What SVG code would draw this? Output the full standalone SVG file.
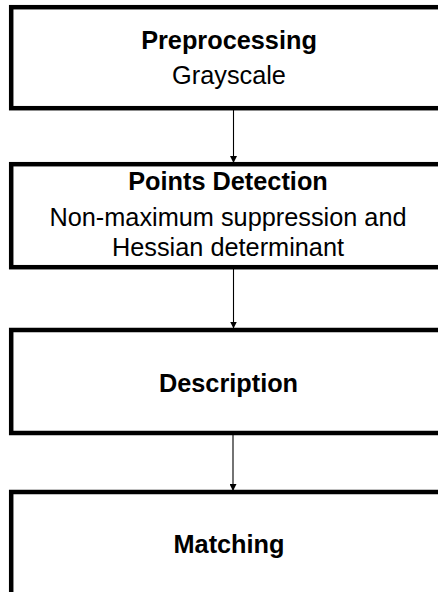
<svg xmlns="http://www.w3.org/2000/svg" width="438" height="592" viewBox="0 0 438 592">
  <style>
    .box { fill: #ffffff; stroke: #000000; stroke-width: 4.5; }
    .title { font-family: "Liberation Sans", Arial, sans-serif; font-size: 25.3px; font-weight: bold; fill: #000; text-anchor: middle; }
    .sub { font-family: "Liberation Sans", Arial, sans-serif; font-size: 25.3px; fill: #000; text-anchor: middle; }
    .link { stroke: #000; stroke-width: 1.1; fill: none; }
  </style>
  <defs>
    <marker id="arrow" viewBox="0 0 7 7" refX="7" refY="3.5" markerWidth="7" markerHeight="7" markerUnits="userSpaceOnUse" orient="auto">
      <path d="M0,0 L7,3.5 L0,7 Z" fill="#000"/>
    </marker>
  </defs>
  <rect width="438" height="592" fill="#ffffff"/>

  <g id="connectors">
    <line class="link" x1="233.5" y1="110" x2="233.5" y2="163" marker-end="url(#arrow)"/>
    <line class="link" x1="233.5" y1="269" x2="233.5" y2="328.5" marker-end="url(#arrow)"/>
    <line class="link" x1="233" y1="429" x2="233" y2="491" marker-end="url(#arrow)"/>
  </g>

  <g id="preprocessing">
    <rect class="box" x="11.2" y="7.2" width="440" height="101"/>
    <text class="title" x="229" y="48.5">Preprocessing</text>
    <text class="sub" x="229" y="83.5">Grayscale</text>
  </g>

  <g id="points-detection">
    <rect class="box" x="11.2" y="164.2" width="440" height="103"/>
    <text class="title" x="228" y="190">Points Detection</text>
    <text class="sub" x="228" y="226">Non-maximum suppression and</text>
    <text class="sub" x="228" y="256">Hessian determinant</text>
  </g>

  <g id="description">
    <rect class="box" x="11.2" y="330" width="440" height="103"/>
    <text class="title" x="228.5" y="392">Description</text>
  </g>

  <g id="matching">
    <rect class="box" x="11.2" y="492" width="440" height="120"/>
    <text class="title" x="229" y="553">Matching</text>
  </g>
</svg>
